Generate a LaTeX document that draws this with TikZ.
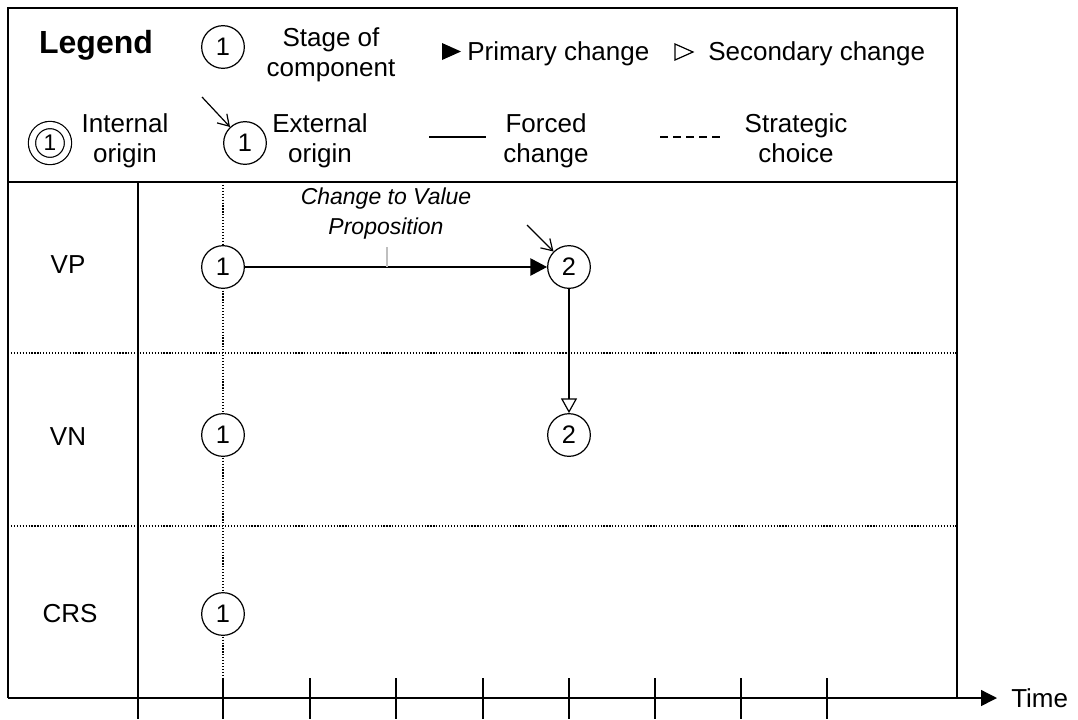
\documentclass[tikz,border=0pt]{standalone}
\usepackage{fontspec}
\setmainfont{Liberation Sans}
\usetikzlibrary{arrows.meta}

\begin{document}
\begin{tikzpicture}[x=0.75pt,y=-0.75pt,
        stage/.style={circle, draw, fill=white, line width=0.9pt, minimum size=32pt, inner sep=0pt, font=\fontsize{19}{22}\selectfont},
        txt/.style={align=center, inner sep=0pt, font=\fontsize{19.5}{22.5}\selectfont}]
        \useasboundingbox (0,0) rectangle (1078,719);

        % frame and rows
        \coordinate (A) at (8,8);
        \coordinate (B) at (957,8);
        \coordinate (O) at (8,698);
        \coordinate (E) at (957,698);

        \draw[line width=1.2pt] (O) -- (A) -- (B) -- (E);
        \draw[line width=1.2pt] (8,182) -- (957,182);
        \draw[line width=0.9pt] (138,182) -- (138,719);

        \draw[line width=1pt, dash pattern=on 0.9pt off 1.3pt] (8,353) -- (957,353);
        \draw[line width=1pt, dash pattern=on 0.9pt off 1.3pt] (8,526) -- (957,526);
        \draw[line width=1pt, dash pattern=on 0.9pt off 1.3pt] (223,182) -- (223,678);

        % time axis
        \draw[line width=1pt, -{Triangle[length=12pt, width=12pt]}] (O) -- (997,698) coordinate (T);
        \node[txt, anchor=base west] (time) at (1011,707) {Time};
        \foreach \x in {223,310,396,483,569,655,741,827}
            \draw[line width=0.9pt] (\x,678) -- (\x,719);

        % components
        \node[txt, anchor=base] (VP) at (68,273) {VP};
        \node[txt, anchor=base] (VN) at (68,445) {VN};
        \node[txt, anchor=base] (CRS) at (70,622) {CRS};

        \node[stage] (P1) at (223,267) {1};
        \node[stage] (P2) at (569,267) {2};
        \node[stage] (N1) at (223,435) {1};
        \node[stage] (N2) at (569,435) {2};
        \node[stage] (R1) at (223,614) {1};

        \draw[line width=0.9pt, -{Triangle[length=12.5pt, width=13pt]}] (P1) -- (P2);
        \draw[line width=0.9pt, -{Triangle[open, length=11pt, width=12pt]}] (P2) -- (N2);
        \coordinate (X2) at (527,225);
        \draw[line width=0.9pt, -{Straight Barb[length=8pt, width=10pt]}] (X2) -- (P2);

        \node[txt, font=\fontsize{17.25}{22.5}\selectfont\itshape] (C) at (386,214) {Change to Value\\Proposition};
        \coordinate (C1) at (387,247);
        \draw[gray!50, line width=0.9pt] (C1) -- (C1 |- P1);

        % legend
        \node[inner sep=0pt, anchor=base, font=\bfseries\fontsize{24}{28}\selectfont] (L) at (96,53) {Legend};
        \node[stage] (S) at (223,47) {1};
        \node[txt] (Sl) at (331,55) {Stage of\\component};

        \fill (442,43) -- (461,51.5) -- (442,60) -- cycle;
        \node[txt, anchor=base west] (Pl) at (467,60) {Primary change};
        \draw[line width=0.9pt] (675,44) -- (693,52) -- (675,60) -- cycle;
        \node[txt, anchor=base west] (Ql) at (708,60) {Secondary change};

        \node[stage, minimum size=27pt, double, double distance=4.5pt, font=\fontsize{17}{20}\selectfont] (I) at (50,143) {1};
        \node[txt] (Il) at (125,141) {Internal\\origin};

        \node[stage] (X) at (245,143) {1};
        \coordinate (X1) at (202,97);
        \draw[line width=0.9pt, -{Straight Barb[length=8pt, width=10pt]}] (X1) -- (X);
        \node[txt] (Xl) at (320,141) {External\\origin};

        \draw[line width=0.9pt] (429,137) -- (486,137);
        \node[txt] (Fl) at (546,141) {Forced\\change};
        \draw[line width=0.9pt, dash pattern=on 6pt off 3.75pt] (660,137) -- (720,137);
        \node[txt] (Gl) at (796,138) {Strategic\\choice};
    \end{tikzpicture}
\end{document}
